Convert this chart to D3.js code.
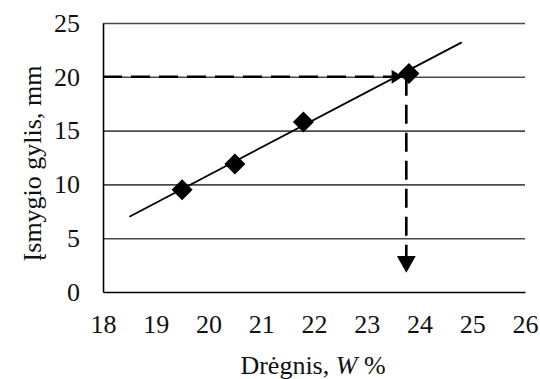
<!DOCTYPE html>
<html>
<head>
<meta charset="utf-8">
<script src="https://cdn.jsdelivr.net/npm/d3@7"></script>
<style>
  body { margin: 0; background: #fff; }
  text { font-family: "Liberation Serif", "Times New Roman", serif; }
</style>
</head>
<body>
<div id="chart"></div>
<script>
// measured points
const moisture = [19.5, 20.5, 21.8, 23.8];
const depth = [9.5, 11.9, 15.8, 20.3];

// trend line ends
const trendX = [18.5, 24.8];
const trendY = [7.0, 23.2];

// dashed guide lines (to 20 mm, then down to the moisture axis)
const guideHX = [18, 23.68];
const guideHY = [20, 20];
const guideVX = [23.75, 23.75];
const guideVY = [20, 1.8];

const xTicks = [18, 19, 20, 21, 22, 23, 24, 25, 26];
const yTicks = [0, 5, 10, 15, 20, 25];

const width = 540, height = 379;
const margin = {top: 23, right: 15, bottom: 87, left: 103};
const fontSize = 26;

const svg = d3.select('#chart').append('svg')
  .attr('width', width)
  .attr('height', height);

// arrow heads: a big one for the drop line, a small one hidden by the last point
const defs = svg.append('defs');
defs.append('marker')
  .attr('id', 'arrow')
  .attr('markerUnits', 'userSpaceOnUse')
  .attr('markerWidth', 20)
  .attr('markerHeight', 20)
  .attr('viewBox', '0 -9 16 18')
  .attr('refX', 15)
  .attr('refY', 0)
  .attr('orient', 'auto')
  .append('path')
  .attr('d', 'M0,-8.5L15,0L0,8.5Z')
  .attr('fill', '#000');

defs.append('marker')
  .attr('id', 'arrowSmall')
  .attr('markerUnits', 'userSpaceOnUse')
  .attr('markerWidth', 14)
  .attr('markerHeight', 16)
  .attr('viewBox', '0 -8 12 16')
  .attr('refX', 11)
  .attr('refY', 0)
  .attr('orient', 'auto')
  .append('path')
  .attr('d', 'M0,-7L11,0L0,7Z')
  .attr('fill', '#000');

let x = d3.scaleLinear()
  .domain([18, 26])
  .range([margin.left, width - margin.right]);

let y = d3.scaleLinear()
  .domain([0, 25])
  .range([height - margin.bottom, margin.top]);

// horizontal grid lines
svg.append('g')
  .attr('transform', `translate(${margin.left}, 0)`)
  .call(d3.axisLeft(y).tickValues(yTicks.slice(1)).tickSize(-(width - margin.left - margin.right)).tickFormat(''))
  .call(g => g.select('.domain').remove())
  .call(g => g.selectAll('line').attr('stroke', '#4a4a4a').attr('stroke-width', 1.6));

// axes
svg.append('g')
  .attr('transform', `translate(0, ${y(0)})`)
  .call(d3.axisBottom(x).tickValues(xTicks).tickSize(0).tickSizeOuter(0).tickPadding(23))
  .call(g => g.select('.domain').attr('stroke', '#000').attr('stroke-width', 1.6))
  .call(g => g.selectAll('text').attr('font-size', fontSize).attr('font-family', '"Liberation Serif", serif').attr('fill', '#111'));

svg.append('g')
  .attr('transform', `translate(${margin.left}, 0)`)
  .call(d3.axisLeft(y).tickValues(yTicks).tickSize(0).tickSizeOuter(0).tickPadding(23))
  .call(g => g.select('.domain').attr('stroke', '#000').attr('stroke-width', 1.6))
  .call(g => g.selectAll('text').attr('font-size', fontSize).attr('font-family', '"Liberation Serif", serif').attr('fill', '#111'));

// trend line
const line = d3.line().x(d => x(d[0])).y(d => y(d[1]));

svg.append('path')
  .attr('d', line(d3.zip(trendX, trendY)))
  .attr('fill', 'none')
  .attr('stroke', '#000')
  .attr('stroke-width', 1.8);

// dashed guides with arrow heads
svg.append('path')
  .attr('d', line(d3.zip(guideHX, guideHY)))
  .attr('fill', 'none')
  .attr('stroke', '#000')
  .attr('stroke-width', 2.6)
  .attr('stroke-dasharray', '19,9')
  .attr('marker-end', 'url(#arrowSmall)');

svg.append('path')
  .attr('d', line(d3.zip(guideVX, guideVY)))
  .attr('fill', 'none')
  .attr('stroke', '#000')
  .attr('stroke-width', 2.6)
  .attr('stroke-dasharray', '19,9')
  .attr('marker-end', 'url(#arrow)');

// diamond markers
svg.append('g')
  .selectAll('path')
  .data(d3.zip(moisture, depth))
  .join('path')
  .attr('transform', d => `translate(${x(d[0])}, ${y(d[1])})`)
  .attr('d', 'M0,-10.5L10.5,0L0,10.5L-10.5,0Z')
  .attr('fill', '#000');

// axis titles
const xTitle = svg.append('text')
  .attr('x', 313)
  .attr('y', 374)
  .attr('text-anchor', 'middle')
  .attr('font-size', fontSize)
  .attr('fill', '#111');
xTitle.append('tspan').text('Drėgnis, ');
xTitle.append('tspan').attr('font-style', 'italic').text('W');
xTitle.append('tspan').text(' %');

svg.append('text')
  .attr('transform', `translate(41, ${(margin.top + height - margin.bottom) / 2 + 6}) rotate(-90)`)
  .attr('text-anchor', 'middle')
  .attr('font-size', fontSize)
  .attr('fill', '#111')
  .text('Įsmygio gylis, mm');
</script>
</body>
</html>
